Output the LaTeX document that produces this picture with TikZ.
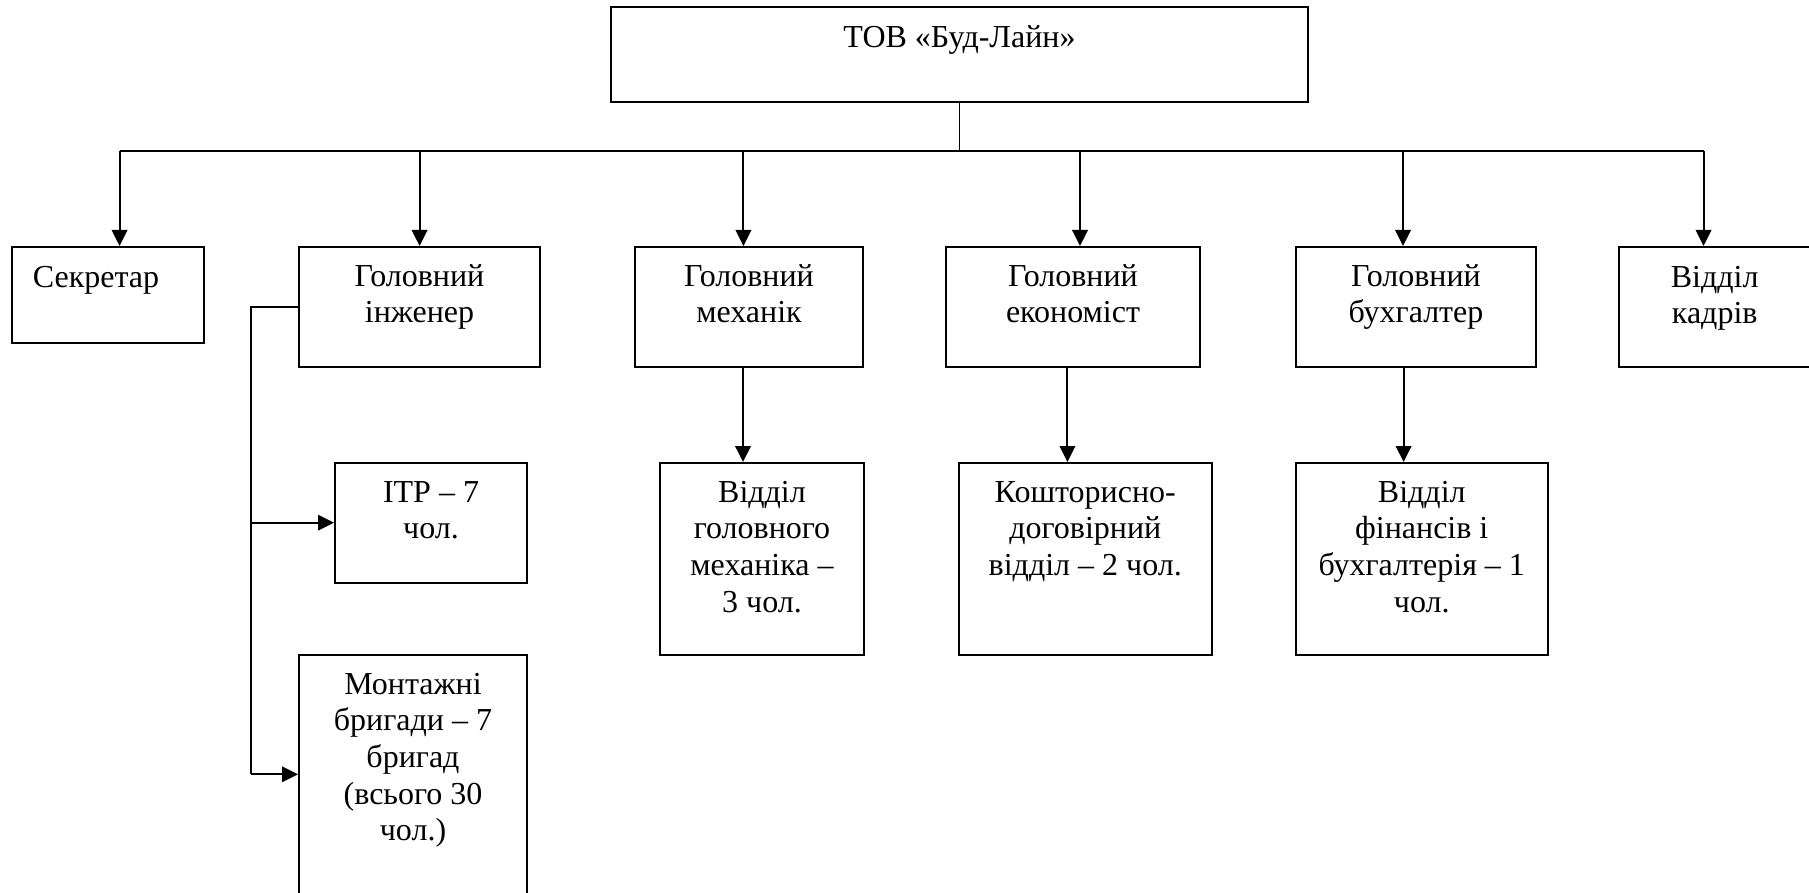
\documentclass[tikz,border=0pt]{standalone}
\usepackage{fontspec}
\setmainfont{Liberation Serif}
\usetikzlibrary{arrows.meta}
\begin{document}
\begin{tikzpicture}[x=0.5pt,y=-0.5pt,
  box/.style={draw, line width=1pt, inner sep=0pt, rectangle},
  txt/.style={anchor=base, inner sep=0pt, font=\fontsize{16pt}{18.35pt}\selectfont},
  conn/.style={line width=1pt},
  arr/.style={line width=1pt, -{Triangle[width=7.75pt,length=8pt]}},
  thinconn/.style={line width=0.5pt}]
\useasboundingbox (0,0) rectangle (1809,893);
\clip (0,0) rectangle (1809,893);
% boxes (corner coordinates in pixels)
\newcommand{\bx}[5]{\node[box, minimum width={(#4-#2)*0.5pt}, minimum height={(#5-#3)*0.5pt}] (#1) at ({(#2+#4)/2},{(#3+#5)/2}) {};}
\bx{top}{611}{7}{1308}{102}
\bx{sec}{11.5}{247}{204}{343}
\bx{eng}{299}{247}{540}{367}
\bx{mech}{635}{247}{863}{367}
\bx{econ}{946}{247}{1200}{367}
\bx{acc}{1296}{247}{1536}{367}
\bx{hr}{1619}{247}{1812}{367}
\bx{itr}{335}{463}{527}{583}
\bx{mont}{299}{655}{527}{920}
\bx{mdept}{660}{463}{864}{655}
\bx{est}{959}{463}{1211.5}{655}
\bx{fin}{1295.5}{463}{1548}{655}
% texts
\node[txt] (ttop) at ([yshift=-20.7pt]top.north) {ТОВ «Буд-Лайн»};
\node[txt, anchor=base west] (tsec) at (32.5,287.5) {Секретар};
\newcommand{\tx}[3]{\node[txt] (#1) at ([yshift=-20pt]#2.north) {\parbox[t]{200pt}{\centering #3}};}
\tx{teng}{eng}{Головний\\інженер}
\tx{tmech}{mech}{Головний\\механік}
\tx{tecon}{econ}{Головний\\економіст}
\tx{tacc}{acc}{Головний\\бухгалтер}
\node[txt] (thr) at (1714.7,287) {\parbox[t]{200pt}{\centering Відділ\\кадрів}};
\tx{titr}{itr}{ІТР – 7\\чол.}
\tx{tmont}{mont}{Монтажні\\бригади – 7\\бригад\\(всього 30\\чол.)}
\tx{tmdept}{mdept}{Відділ\\головного\\механіка –\\3 чол.}
\tx{test}{est}{Кошторисно-\\договірний\\відділ – 2 чол.}
\tx{tfin}{fin}{Відділ\\фінансів і\\бухгалтерія – 1\\чол.}
% bus
\coordinate (bl) at (119.6,151);
\coordinate (br) at (1703.5,151);
\coordinate (bt) at (959,151);
\coordinate (b2) at (419.6,151);
\coordinate (b3) at (743.4,151);
\coordinate (b4) at (1080,151);
\coordinate (b5) at (1403,151);
\draw[thinconn] (top.south -| bt) -- (bt);
\draw[conn] (bl) -- (br);
\draw[arr] (bl) -- (bl |- sec.north);
\draw[arr] (b2) -- (b2 |- eng.north);
\draw[arr] (b3) -- (b3 |- mech.north);
\draw[arr] (b4) -- (b4 |- econ.north);
\draw[arr] (b5) -- (b5 |- acc.north);
\draw[arr] (br) -- (br |- hr.north);
% lower arrows
\coordinate (m1) at (743,367);
\coordinate (m2) at (1067.4,367);
\coordinate (m3) at (1403.6,367);
\draw[arr] (m1) -- (m1 |- mdept.north);
\draw[arr] (m2) -- (m2 |- est.north);
\draw[arr] (m3) -- (m3 |- fin.north);
% bracket from engineer
\coordinate (bj) at (251,306.7);
\coordinate (bi) at (251,522.7);
\coordinate (bm) at (251,774.3);
\draw[conn] (eng.west |- bj) -- (bj) -- (bm);
\draw[arr] (bi) -- (bi -| itr.west);
\draw[arr] (bm) -- (bm -| mont.west);
\end{tikzpicture}
\end{document}
